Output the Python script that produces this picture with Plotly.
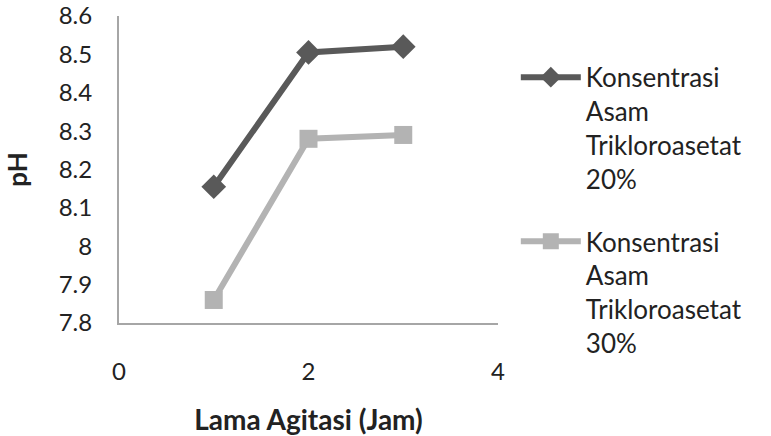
import plotly.graph_objects as go

hours = [1, 2, 3]
ph_20 = [8.155, 8.505, 8.52]
ph_30 = [7.86, 8.28, 8.29]
name_20 = "Konsentrasi<br>Asam<br>Trikloroasetat<br>20%"
name_30 = "Konsentrasi<br>Asam<br>Trikloroasetat<br>30%"
y_ticks = [7.8, 7.9, 8.0, 8.1, 8.2, 8.3, 8.4, 8.5, 8.6]
y_ticktext = ["7.8", "7.9", "8", "8.1", "8.2", "8.3", "8.4", "8.5", "8.6"]
x_ticks = [0, 2, 4]

FONT = "Lato, Open Sans, sans-serif"

fig = go.Figure()
fig.add_trace(go.Scatter(x=hours, y=ph_20, name=name_20, mode="lines+markers",
                         legendgroup="a",
                         line=dict(color="#595959", width=6),
                         marker=dict(symbol="diamond", size=19, color="#595959")))
fig.add_trace(go.Scatter(x=hours, y=ph_30, name=name_30, mode="lines+markers",
                         legendgroup="b",
                         line=dict(color="#b3b3b3", width=6),
                         marker=dict(symbol="square", size=18, color="#b3b3b3")))

fig.update_layout(
    width=771, height=436,
    margin=dict(l=119, r=273, t=16, b=113, autoexpand=False),
    paper_bgcolor="white", plot_bgcolor="white",
    font=dict(family=FONT, size=24, color="#222222"),
    xaxis=dict(range=[0, 4], tickvals=x_ticks, showgrid=False, zeroline=False,
               automargin=False,
               showline=True, linecolor="#a6a6a6", linewidth=2,
               ticks="outside", ticklen=26, tickcolor="rgba(0,0,0,0)",
               tickfont=dict(size=24),
               title=dict(text="<b>Lama Agitasi (Jam)</b>", font=dict(size=28), standoff=30)),
    yaxis=dict(range=[7.8, 8.6], tickvals=y_ticks, ticktext=y_ticktext,
               showgrid=False, zeroline=False, ticklabeloverflow="allow",
               automargin=False,
               showline=True, linecolor="#a6a6a6", linewidth=2,
               ticks="outside", ticklen=20, tickcolor="rgba(0,0,0,0)",
               tickfont=dict(size=24),
               title=dict(text="<b>pH</b>", font=dict(size=26), standoff=24)),
    legend=dict(x=1.047, y=0.877, xanchor="left", yanchor="top",
                font=dict(size=26), tracegroupgap=26, itemwidth=60,
                traceorder="grouped", valign="top", maxheight=600,
                bgcolor="rgba(0,0,0,0)"),
)

fig.write_html("out.html")
